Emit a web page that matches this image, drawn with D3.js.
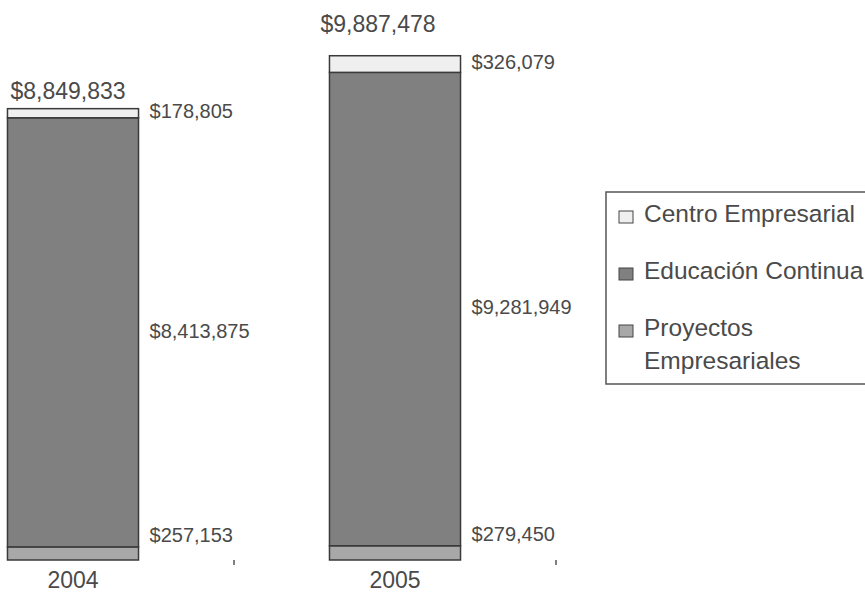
<!DOCTYPE html>
<html>
<head>
<meta charset="utf-8">
<script src="https://cdn.jsdelivr.net/npm/d3@7"></script>
<style>
  body { margin: 0; background: #fff; }
  svg text { font-family: "Liberation Sans", Arial, sans-serif; fill: #4a4a4a; }
</style>
</head>
<body>
<div id="graf"></div>
<script>
// Datos
const anios = ["2004", "2005"]
const centro = [178805, 326079]
const educacion = [8413875, 9281949]
const proyectos = [257153, 279450]
const totales = [8849833, 9887478]
const series = ["Centro Empresarial", "Educación Continua", "Proyectos Empresariales"]

const colores = { centro: "#efefef", educacion: "#808080", proyectos: "#a8a8a8" }

const ancho = 865, alto = 592
const svg = d3.select("#graf").append("svg")
  .attr("width", ancho).attr("height", alto)

// Escaladores
const x = d3.scaleBand().domain(anios).range([-88, 556])
  .paddingInner(0.593).paddingOuter(0.2965)
const y = d3.scaleLinear().domain([0, 10000000]).range([560, 50])

const fmt = d3.format("$,")

// tabla apilada (de abajo hacia arriba)
const tabla = anios.map((a, i) => ({ anio: a, proyectos: proyectos[i], educacion: educacion[i], centro: centro[i] }))
const stack = d3.stack().keys(["proyectos", "educacion", "centro"])(tabla)

// Barras
svg.append("g")
  .selectAll("g")
  .data(stack)
  .join("g")
  .attr("fill", d => colores[d.key])
  .selectAll("rect")
  .data(d => d)
  .join("rect")
  .attr("x", d => x(d.data.anio))
  .attr("y", d => y(d[1]))
  .attr("width", x.bandwidth())
  .attr("height", d => y(d[0]) - y(d[1]))
  .attr("stroke", "#3a3a3a")
  .attr("stroke-width", 1.5)

// Etiquetas de valores
const lado = 11
svg.append("g")
  .selectAll("text")
  .data(stack.flatMap(s => s.map(d => ({ key: s.key, d }))))
  .join("text")
  .attr("x", e => x(e.d.data.anio) + x.bandwidth() + lado)
  .attr("y", e => e.key === "proyectos" ? y(e.d[1]) - 10 : (y(e.d[0]) + y(e.d[1])) / 2)
  .attr("dominant-baseline", "middle")
  .style("font-size", "20px")
  .text(e => fmt(e.d.data[e.key]))

const totalDx = [-5, -17]
const totalDy = [-10, -24]
svg.append("g")
  .selectAll("text")
  .data(totales)
  .join("text")
  .attr("x", (d, i) => x(anios[i]) + x.bandwidth() / 2 + totalDx[i])
  .attr("y", (d, i) => y(d) + totalDy[i])
  .attr("text-anchor", "middle")
  .style("font-size", "23px")
  .text(d => fmt(d))

// Eje x: etiquetas y marcas entre categorias
svg.append("g")
  .selectAll("text")
  .data(anios)
  .join("text")
  .attr("x", d => x(d) + x.bandwidth() / 2)
  .attr("y", 588)
  .attr("text-anchor", "middle")
  .style("font-size", "23px")
  .text(d => d)

svg.append("g")
  .selectAll("line")
  .data(anios)
  .join("line")
  .attr("x1", d => x(d) + x.bandwidth() + x.step() * x.paddingInner() / 2)
  .attr("x2", d => x(d) + x.bandwidth() + x.step() * x.paddingInner() / 2)
  .attr("y1", 560).attr("y2", 565)
  .attr("stroke", "#555").attr("stroke-width", 1.5)

// Leyenda
const ley = svg.append("g").attr("transform", "translate(606,192)")
ley.append("rect")
  .attr("x", 0).attr("y", 0).attr("width", 300).attr("height", 192)
  .attr("fill", "none").attr("stroke", "#555").attr("stroke-width", 1.5)

const claves = ["centro", "educacion", "proyectos"]
const item = ley.selectAll("g.item")
  .data(series)
  .join("g")
  .attr("class", "item")
  .attr("transform", (d, i) => `translate(13, ${21 + i * 57})`)

item.append("rect")
  .attr("x", 0).attr("y", -2).attr("width", 14).attr("height", 12)
  .attr("fill", (d, i) => colores[claves[i]])
  .attr("stroke", "#444").attr("stroke-width", 1)

item.append("text")
  .attr("x", 25)
  .attr("y", 9)
  .style("font-size", "24.5px")
  .each(function (d) {
    const partes = d === "Proyectos Empresariales" ? ["Proyectos", "Empresariales"] : [d]
    d3.select(this).selectAll("tspan")
      .data(partes)
      .join("tspan")
      .attr("x", 25)
      .attr("dy", (p, j) => j === 0 ? 0 : 33)
      .text(p => p)
  })
</script>
</body>
</html>
